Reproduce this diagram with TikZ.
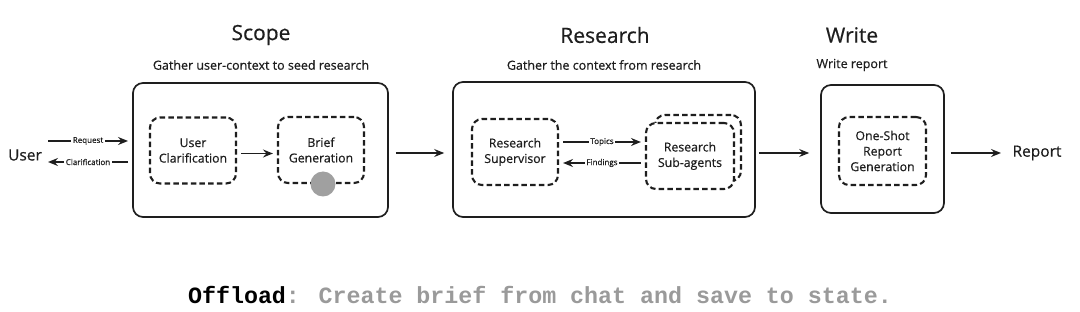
\documentclass[tikz,border=0pt]{standalone}
\usepackage{fontspec}
\setmainfont{Open Sans}[FakeBold=0.5]
\newfontfamily\monofont{Liberation Mono}
\usetikzlibrary{arrows.meta,calc}
\definecolor{ink}{HTML}{1E1E1E}
\definecolor{offgray}{HTML}{9A9A9A}
\definecolor{dotgray}{HTML}{A0A0A0}
\tikzset{
  outerbox/.style={draw=ink,line width=1.7pt,rounded corners=10pt,inner sep=0pt},
  dashbox/.style={draw=ink,line width=2.1pt,dash pattern=on 5.5pt off 3.2pt,rounded corners=10pt,fill=white,inner sep=0pt,align=center,font=\fontsize{12.3}{15.5}\selectfont,text=ink},
  arr/.style={draw=ink,line width=1.8pt,-{Stealth[length=10pt,width=8pt,inset=3.5pt]}},
  lbl/.style={fill=white,inner sep=1.5pt,font=\fontsize{8}{9}\selectfont,text=ink},
  title/.style={font=\fontsize{21}{25}\selectfont,text=ink},
  subtitle/.style={font=\fontsize{12.5}{15}\selectfont,text=ink},
  endtext/.style={font=\fontsize{15.5}{18}\selectfont,text=ink}
}
\begin{document}
\begin{tikzpicture}[x=1pt,y=-1pt]
\useasboundingbox[fill=white] (0,0) rectangle (1080,312);
% titles
\node[title] (t1) at (261,35) {Scope};
\node[subtitle] (s1) at (261,65) {Gather user-context to seed research};
\node[title] (t2) at (605,35) {Research};
\node[subtitle] (s2) at (604,65) {Gather the context from research};
\node[title] (t3) at (852,35) {Write};
\node[subtitle] (s3) at (852,65) {Write report};
% outer boxes
\node[outerbox,minimum width=255pt,minimum height=134pt] (scope) at (260.5,150) {};
\node[outerbox,minimum width=302pt,minimum height=135pt] (research) at (604,149.5) {};
\node[outerbox,minimum width=123pt,minimum height=128pt] (write) at (882.5,149) {};
% inner boxes
\node[dashbox,minimum width=86pt,minimum height=66pt] (uc) at (193,150.5) {User\\Clarification};
\node[dashbox,minimum width=86pt,minimum height=66pt] (bg) at (321,150) {Brief\\Generation};
\fill[dotgray] (323,184) circle (12.5pt);
\node[dashbox,minimum width=86pt,minimum height=66pt] (rs) at (515,152) {Research\\Supervisor};
\node[dashbox,minimum width=86pt,minimum height=66pt] (saback) at (698,148) {};
\node[dashbox,minimum width=88pt,minimum height=66pt] (sa) at (690,156) {Research\\Sub-agents};
\node[dashbox,minimum width=87pt,minimum height=68pt] (os) at (882.5,151) {One-Shot\\Report\\Generation};
% end texts
\node[endtext] (user) at (25,155) {User};
\node[endtext,anchor=west] (report) at (1009,153) {Report};
% user arrows
\coordinate (ra) at (48,141);
\coordinate (rb) at (128,141);
\coordinate (ca) at (128,162);
\coordinate (cb) at (48,162);
\draw[arr] (ra) -- node[lbl] {Request} (rb);
\draw[arr] (ca) -- node[lbl] {Clarification} (cb);
% internal arrows
\draw[arr] ($(uc.east)+(4,3)$) -- ($(uc.east -| bg.west)+(-4,3)$);
\draw[arr] ($(rs.east)+(4,-10)$) -- node[lbl] {Topics} ($(rs.east -| sa.west)+(-4,-10)$);
\draw[arr] ($(rs.east -| sa.west)+(-4,11)$) -- node[lbl] {Findings} ($(rs.east)+(4,11)$);
% stage arrows
\draw[arr] ($(scope.east)+(7,3)$) -- ($(scope.east -| research.west)+(-8,3)$);
\draw[arr] ($(research.east)+(3,3.5)$) -- ($(research.east -| write.west)+(-11,3.5)$);
\draw[arr] ($(write.east)+(6,4)$) -- ($(write.east -| report.west)+(-8,4)$);
% bottom note
\node[font=\monofont\fontsize{23.3}{26}\selectfont] (note) at (540,295) {\textbf{Offload}\textcolor{offgray}{\textbf{: Create brief from chat and save to state.}}};
\end{tikzpicture}
\end{document}
